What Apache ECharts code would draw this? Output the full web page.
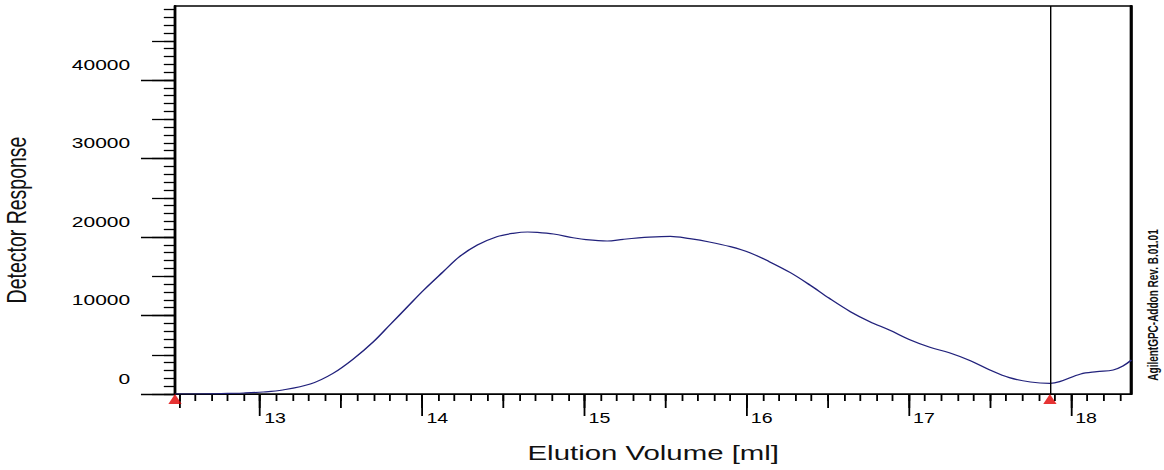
<!DOCTYPE html>
<html>
<head>
<meta charset="utf-8">
<script src="https://cdn.jsdelivr.net/npm/echarts@6/dist/echarts.min.js"></script>
<style>
  html, body { margin: 0; padding: 0; background: #fff; overflow: hidden; }
  #chart { position: absolute; left: 0; top: 0; height: 470px; transform-origin: 0 0; }
</style>
</head>
<body>
<div id="chart"></div>
<script>
// ---------------- data ----------------
const elutionVolume = [12.476, 12.60, 12.70, 12.80, 12.90, 13.02, 13.14, 13.31, 13.45, 13.58,
  13.70, 13.80, 13.91, 14.01, 14.13, 14.23, 14.34, 14.46, 14.56, 14.65,
  14.71, 14.81, 14.93, 15.01, 15.14, 15.24, 15.40, 15.53, 15.65, 15.77,
  15.90, 16.02, 16.14, 16.27, 16.39, 16.51, 16.64, 16.76, 16.88, 17.01,
  17.13, 17.25, 17.38, 17.50, 17.62, 17.75, 17.87, 17.93, 18.06, 18.16,
  18.26, 18.32, 18.373];
const detectorResponse = [0, 0, 20, 80, 130, 255, 510, 1270, 2630, 4540,
  6670, 8790, 11130, 13250, 15590, 17500, 18980, 20040, 20470, 20640,
  20600, 20380, 19910, 19660, 19490, 19710, 19980, 20090, 19790, 19370,
  18770, 18000, 16860, 15460, 13890, 12190, 10490, 9210, 8150, 6880,
  5950, 5260, 4240, 3060, 2080, 1530, 1360, 1570, 2550, 2840,
  3060, 3570, 4330];
const integrationLimits = [12.476, 17.87];
const xTickLabels = [13, 14, 15, 16, 17, 18];
const yTickLabels = [0, 10000, 20000, 30000, 40000];
const xName = 'Elution Volume [ml]';
const yName = 'Detector Response';
const footnote = 'AgilentGPC-Addon Rev. B.01.01';

// tick value lists (minor / medium ticks)
function steps(from, to, step, dec) {
  const out = [];
  const n = Math.round((to - from) / step);
  for (let i = 0; i <= n; i++) out.push(+(from + i * step).toFixed(dec));
  return out;
}
const xMinorTicks = steps(12.5, 18.3, 0.1, 1);
const xMediumTicks = steps(12.5, 18.0, 0.5, 1);
const yMinorTicks = steps(0, 49000, 1000, 0);
const yMediumTicks = steps(0, 45000, 5000, 0);

// ---------------- layout ----------------
const S = 1.4;                 // horizontal stretch of the original image
const H = 470;
const W = 1164 / S;
const X_MIN = 12.476, X_MAX = 18.373, Y_MIN = 0, Y_MAX = 49430;
const plotLeft = 125, plotRight = 1131.5 / S, plotTop = 6, plotBottom = 394;

const el = document.getElementById('chart');
el.style.width = W + 'px';
el.style.transform = 'scaleX(' + S + ')';

const FONT = '"Liberation Sans", Arial, sans-serif';
const black = '#000';

function tickX(values, len, labels) {
  return {
    type: 'value', gridIndex: 0, min: X_MIN, max: X_MAX, position: 'bottom',
    axisLine: { show: false, onZero: false },
    axisTick: { show: true, length: len, inside: false, customValues: values,
      lineStyle: { color: black, width: 1.3 } },
    splitLine: { show: false },
    axisLabel: labels ? {
      show: true, customValues: labels, color: black, fontFamily: FONT, fontSize: 14, margin: 17,
      align: 'left', padding: [0, 0, 0, 3], formatter: v => String(v)
    } : { show: false }
  };
}
function tickY(values, len, labels) {
  return {
    type: 'value', gridIndex: 0, min: Y_MIN, max: Y_MAX, position: 'left',
    axisLine: { show: false, onZero: false },
    axisTick: { show: true, length: len, inside: false, customValues: values,
      lineStyle: { color: black, width: 1.3 } },
    splitLine: { show: false },
    axisLabel: labels ? {
      show: true, customValues: labels, color: black, fontFamily: FONT, fontSize: 15, margin: 32,
      verticalAlign: 'bottom', padding: [0, 0, 8, 0], formatter: v => String(v)
    } : { show: false }
  };
}

const option = {
  animation: false,
  backgroundColor: '#fff',
  grid: [{
    left: plotLeft, right: W - plotRight, top: plotTop, bottom: H - plotBottom,
    containLabel: false, outerBoundsMode: 'none',
    show: true, borderColor: black, borderWidth: 1.3
  }],
  xAxis: [
    {
      type: 'value', gridIndex: 0, min: X_MIN, max: X_MAX, position: 'bottom',
      axisLine: { show: true, onZero: false, lineStyle: { color: black, width: 1 } },
      axisTick: { show: false }, axisLabel: { show: false }, splitLine: { show: false },
      name: xName, nameLocation: 'middle', nameGap: 48,
      nameTextStyle: { color: '#111', fontFamily: FONT, fontSize: 21 }
    },
    tickX(xMinorTicks, 7, null),
    tickX(xMediumTicks, 14, null),
    tickX(xTickLabels, 22, xTickLabels)
  ],
  yAxis: [
    {
      type: 'value', gridIndex: 0, min: Y_MIN, max: Y_MAX, position: 'left',
      axisLine: { show: true, onZero: false, lineStyle: { color: black, width: 2 } },
      axisTick: { show: false }, axisLabel: { show: false }, splitLine: { show: false },
      name: yName, nameLocation: 'middle', nameGap: 103,
      nameTextStyle: { color: '#111', fontFamily: FONT, fontSize: 19.5, padding: [0, 40, 0, 0] }
    },
    {
      type: 'value', gridIndex: 0, min: Y_MIN, max: Y_MAX, position: 'right',
      axisLine: { show: true, onZero: false, lineStyle: { color: black, width: 2.2 } },
      axisTick: { show: false }, axisLabel: { show: false }, splitLine: { show: false }
    },
    tickY(yMinorTicks, 8, null),
    tickY(yMediumTicks, 16.4, null),
    tickY(yTickLabels, 24.3, yTickLabels)
  ],
  series: [
    {
      type: 'line', xAxisIndex: 0, yAxisIndex: 0,
      data: elutionVolume.map((x, i) => [x, detectorResponse[i]]),
      showSymbol: false, symbol: 'none', smooth: 0.35,
      lineStyle: { color: '#22227c', width: 1.2 },
      z: 3,
      markLine: {
        silent: true, symbol: ['none', 'none'], animation: false,
        label: { show: false },
        lineStyle: { color: black, width: 1, type: 'solid' },
        data: [{ xAxis: integrationLimits[1] }]
      }
    },
    {
      type: 'scatter', xAxisIndex: 0, yAxisIndex: 0, clip: false,
      data: integrationLimits.map(x => [x, 0]),
      symbol: 'triangle', symbolSize: [9.5, 10], symbolOffset: [0, 5],
      itemStyle: { color: '#e00000' }, z: 5, silent: true
    }
  ],
  graphic: [
    {
      type: 'text', x: 823.6, y: 305, rotation: Math.PI / 2,
      style: {
        text: footnote, fill: '#111', font: 'bold 10px ' + FONT,
        align: 'center', verticalAlign: 'middle'
      }
    }
  ]
};

const chart = echarts.init(el, null, { renderer: 'svg', width: W, height: H });
chart.setOption(option);
</script>
</body>
</html>
